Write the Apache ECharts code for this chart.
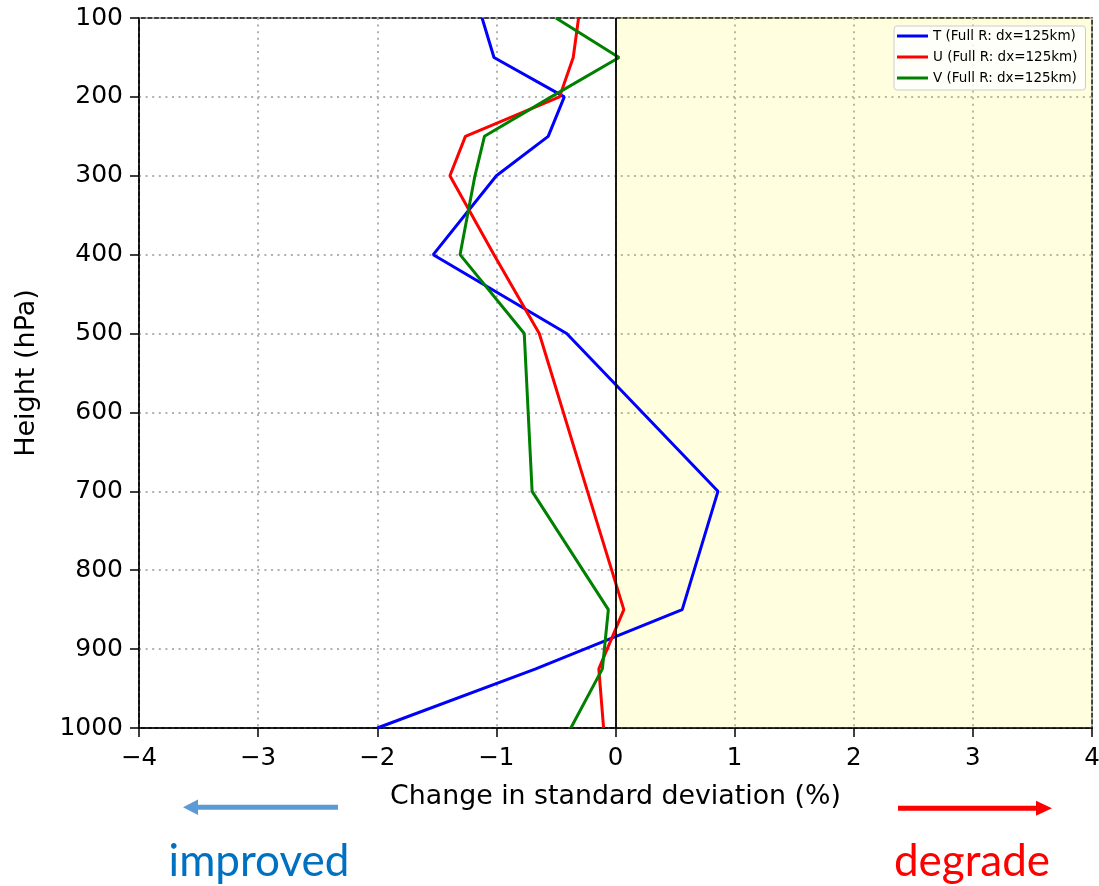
<!DOCTYPE html>
<html>
<head>
<meta charset="utf-8">
<script src="https://cdn.jsdelivr.net/npm/echarts@6/dist/echarts.min.js"></script>
<style>
  html, body { margin: 0; padding: 0; background: #fff; }
  #chart { width: 1099px; height: 886px; }
</style>
</head>
<body>
<div id="chart"></div>
<script>
// Pressure levels (hPa) of the vertical profile
const levels = [100, 150, 200, 250, 300, 400, 500, 700, 850, 925, 1000];

// Change in standard deviation (%) at each level
const tChange = [-1.12, -1.02, -0.43, -0.565, -1.0, -1.53, -0.41, 0.86, 0.56, -0.67, -2.0];
const uChange = [-0.31, -0.355, -0.47, -1.26, -1.39, -1.02, -0.64, -0.235, 0.07, -0.14, -0.10];
const vChange = [-0.50, 0.03, -0.54, -1.10, -1.18, -1.305, -0.766, -0.70, -0.06, -0.11, -0.375];

const seriesNames = ['T (Full R: dx=125km)', 'U (Full R: dx=125km)', 'V (Full R: dx=125km)'];
const seriesColors = ['#0000ff', '#ff0000', '#008000'];

const xTicks = [-4, -3, -2, -1, 0, 1, 2, 3, 4];
const yTicks = [100, 200, 300, 400, 500, 600, 700, 800, 900, 1000];

const toPairs = vals => vals.map((v, i) => [v, levels[i]]);
const FONT = 'DejaVu Sans';

const gridLine = { show: true, lineStyle: { color: '#b0b0b0', width: 2, type: [2, 4.6] } };

const chart = echarts.init(document.getElementById('chart'), null, { renderer: 'canvas' });

const series = [tChange, uChange, vChange].map((vals, i) => ({
  name: seriesNames[i],
  type: 'line',
  data: toPairs(vals),
  symbol: 'none',
  showSymbol: false,
  lineStyle: { color: seriesColors[i], width: 3 },
  itemStyle: { color: seriesColors[i] },
  z: 3
}));

// shaded "degrade" half and the zero reference line
series[0].markArea = {
  silent: true,
  itemStyle: { color: 'rgba(255,255,0,0.12)' },
  data: [[{ xAxis: 0 }, { xAxis: 4 }]]
};
series[0].markLine = {
  silent: true,
  symbol: 'none',
  label: { show: false },
  lineStyle: { color: '#000', width: 1.8, type: 'solid' },
  data: [{ xAxis: 0 }]
};

// plain line swatch for the legend
const LEGEND_LINE = 'path://M0,0 L31,0 L31,3 L0,3 Z';

chart.setOption({
  animation: false,
  backgroundColor: '#fff',
  grid: {
    left: 139, right: 7, top: 18, bottom: 158,
    outerBoundsMode: 'none',
    containLabel: false,
    show: true, borderColor: '#000', borderWidth: 1.5, backgroundColor: 'transparent'
  },
  legend: {
    orient: 'vertical',
    left: 894, top: 26,
    padding: [3, 8, 5, 3],
    itemWidth: 31, itemHeight: 3, itemGap: 7,
    backgroundColor: 'rgba(255,255,255,0.8)',
    borderColor: '#cccccc', borderWidth: 1, borderRadius: 3,
    textStyle: { fontFamily: FONT, fontSize: 13.5, color: '#000', lineHeight: 14 },
    data: seriesNames.map(n => ({ name: n, icon: LEGEND_LINE })),
    selectedMode: false
  },
  xAxis: {
    type: 'value',
    min: xTicks[0], max: xTicks[xTicks.length - 1], interval: 1,
    name: 'Change in standard deviation (%)',
    nameLocation: 'middle', nameGap: 56,
    nameTextStyle: { fontFamily: FONT, fontSize: 26.8, color: '#000' },
    axisLine: { show: true, onZero: false, lineStyle: { color: '#000', width: 1.5 } },
    axisTick: { show: true, length: 9, lineStyle: { color: '#000', width: 1.5 } },
    axisLabel: {
      fontFamily: FONT, fontSize: 24.5, color: '#000', margin: 18,
      formatter: v => String(v).replace('-', '\u2212')
    },
    splitLine: gridLine
  },
  yAxis: {
    type: 'value',
    inverse: true,
    min: yTicks[0], max: yTicks[yTicks.length - 1], interval: 100,
    name: 'Height (hPa)',
    nameLocation: 'middle', nameGap: 99, nameRotate: 90,
    nameTextStyle: { fontFamily: FONT, fontSize: 27, color: '#000' },
    axisLine: { show: true, onZero: false, lineStyle: { color: '#000', width: 1.5 } },
    axisTick: { show: true, length: 9, lineStyle: { color: '#000', width: 1.5 } },
    axisLabel: { fontFamily: FONT, fontSize: 25, color: '#000', margin: 16, formatter: v => String(v) },
    splitLine: gridLine
  },
  series: series,
  graphic: [
    // improved arrow (points left)
    { type: 'rect', shape: { x: 196, y: 804.8, width: 142, height: 5 }, style: { fill: '#5b9bd5' } },
    { type: 'polygon', shape: { points: [[183, 807.3], [198, 799.5], [198, 815.1]] }, style: { fill: '#5b9bd5' } },
    // degrade arrow (points right)
    { type: 'rect', shape: { x: 898, y: 805.8, width: 140, height: 5 }, style: { fill: '#ff0000' } },
    { type: 'polygon', shape: { points: [[1052, 808.3], [1036, 800.8], [1036, 815.8]] }, style: { fill: '#ff0000' } },
    {
      type: 'text', x: 259, y: 862,
      style: { text: 'improved', fill: '#0070c0', font: '44px Lato', textAlign: 'center', textVerticalAlign: 'middle' }
    },
    {
      type: 'text', x: 972, y: 862,
      style: { text: 'degrade', fill: '#ff0000', font: '44px Lato', textAlign: 'center', textVerticalAlign: 'middle' }
    }
  ]
});
</script>
</body>
</html>
